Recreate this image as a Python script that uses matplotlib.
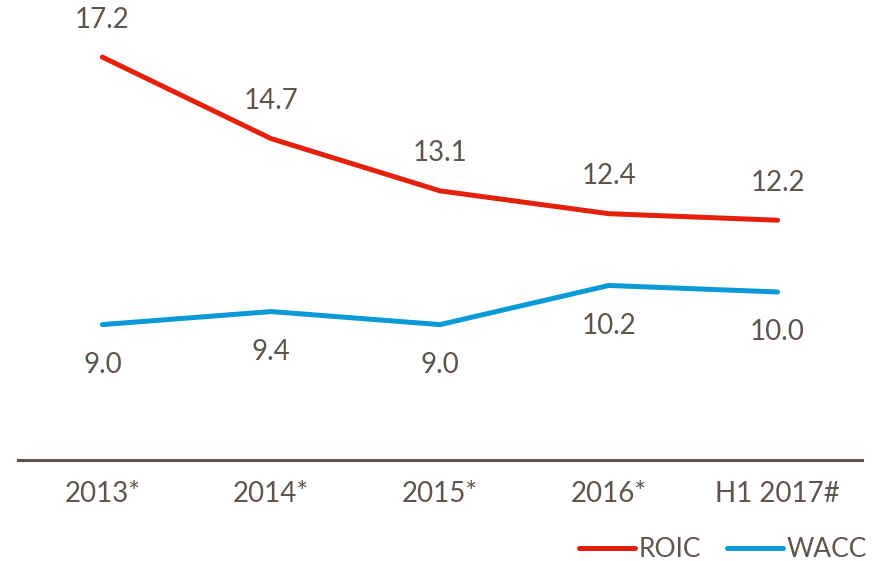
import matplotlib.pyplot as plt
import numpy as np

years = ['2013*', '2014*', '2015*', '2016*', 'H1 2017#']
roic = [17.2, 14.7, 13.1, 12.4, 12.2]
wacc = [9.0, 9.4, 9.0, 10.2, 10.0]

txt = '#5f5550'
red = '#e3200b'
blue = '#0a9ad8'

plt.rcParams['font.family'] = ['Lato', 'DejaVu Sans']

fig = plt.figure(figsize=(8.83, 5.61), dpi=100)
ax = fig.add_axes([18/883, 1 - 460/561, (862-18)/883, 460/561])

x = np.arange(len(years))
ax.plot(x, roic, color=red, lw=3.6, solid_capstyle='round', label='ROIC')
ax.plot(x, wacc, color=blue, lw=3.6, solid_capstyle='round', label='WACC')

for i in x:
    ax.annotate(f'{roic[i]:.1f}', (i, roic[i]), xytext=(0, 27), textcoords='offset points',
                ha='center', va='center', fontsize=20, color=txt)
    ax.annotate(f'{wacc[i]:.1f}', (i, wacc[i]), xytext=(0, -29), textcoords='offset points',
                ha='center', va='center', fontsize=20, color=txt)

ax.set_xlim(-0.5, 4.5)
ax.set_ylim(4.85, 18.95)
ax.set_xticks(x)
ax.set_xticklabels(years, fontsize=20, color=txt)
ax.tick_params(axis='x', length=0, pad=15)
ax.set_yticks([])
for s in ['top', 'left', 'right']:
    ax.spines[s].set_visible(False)
ax.spines['bottom'].set_color(txt)
ax.spines['bottom'].set_linewidth(2.2)

leg = fig.legend(loc='lower right', bbox_to_anchor=(1.0, -0.03), ncol=2, frameon=False,
                 fontsize=19, handlelength=2.1, handletextpad=0.15, columnspacing=1.0,
                 borderaxespad=0.2)
for t in leg.get_texts():
    t.set_color(txt)

fig.savefig('out.png', dpi=100)
